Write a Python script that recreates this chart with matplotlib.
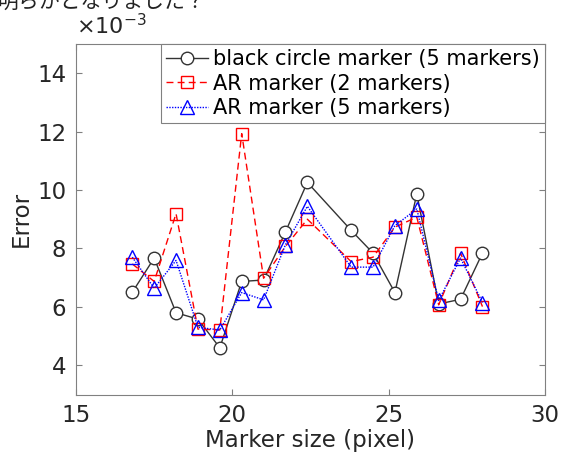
import matplotlib
matplotlib.use("Agg")
import matplotlib.pyplot as plt

plt.rcParams['font.family'] = ['DejaVu Sans', 'Noto Sans CJK JP']

# marker size (pixel)
x = [16.8, 17.5, 18.2, 18.9, 19.6, 20.3, 21.0, 21.7, 22.4,
     23.8, 24.5, 25.2, 25.9, 26.6, 27.3, 28.0]

# error values (x 1e-3)
black_circle = [6.50, 7.67, 5.80, 5.58, 4.60, 6.87, 6.92, 8.57, 10.26,
                8.62, 7.84, 6.49, 9.87, 6.10, 6.26, 7.84]
ar_2 = [7.47, 6.87, 9.19, 5.24, 5.21, 11.93, 6.98, 8.07, 9.00,
        7.55, 7.70, 8.73, 9.07, 6.07, 7.84, 6.01]
ar_5 = [7.70, 6.64, 7.59, 5.30, 5.21, 6.49, 6.24, 8.13, 9.44,
        7.36, 7.36, 8.78, 9.35, 6.22, 7.67, 6.15]

labels = ['black circle marker (5 markers)', 'AR marker (2 markers)', 'AR marker (5 markers)']

fig = plt.figure(figsize=(5.63, 4.62), dpi=100)
ax = fig.add_axes([0.135, 0.146, 0.833, 0.759])

ax.plot(x, black_circle, color='#333333', lw=1.0, marker='o', ms=9,
        mfc='white', mec='#333333', mew=1.0, label=labels[0])
ax.plot(x, ar_2, color='#ff0000', lw=1.0, ls=(0, (5, 3)), marker='s', ms=9,
        mfc='none', mec='#ff0000', mew=1.0, label=labels[1])
ax.plot(x, ar_5, color='#0000ff', lw=1.0, ls=(0, (1, 1)), marker='^', ms=10,
        mfc='none', mec='#0000ff', mew=1.0, label=labels[2])

ax.set_xlim(15, 30)
ax.set_ylim(3, 15)
ax.set_xticks([15, 20, 25, 30])
ax.set_yticks([4, 6, 8, 10, 12, 14])
ax.tick_params(direction='in', length=4, width=0.8, top=True, right=True,
               labelsize=16.5, colors='#808080', labelcolor='#262626', pad=7)
for s in ax.spines.values():
    s.set_color('#808080')
    s.set_linewidth(0.8)

ax.set_xlabel('Marker size (pixel)', fontsize=16.5, color='#262626', labelpad=1)
ax.set_ylabel('Error', fontsize=16.5, color='#262626', labelpad=3)
ax.text(0.0, 1.015, r'$\times10^{\mathsf{-3}}$', transform=ax.transAxes,
        fontsize=16, color='#262626', ha='left', va='bottom')

leg = ax.legend(loc='upper right', borderaxespad=0, fontsize=15,
                handlelength=2.0, handletextpad=0.25, labelspacing=0.22,
                borderpad=0.25, fancybox=False, framealpha=1)
leg.get_frame().set_edgecolor('#808080')
leg.get_frame().set_linewidth(0.8)

# slide caption cut off at the top
fig.text(-0.005, 1 - 13 / 462, '明らかとなりました？', fontsize=15,
         family=['Noto Sans CJK JP'], color='#222222', ha='left', va='bottom')

fig.savefig('out.png', dpi=100)
